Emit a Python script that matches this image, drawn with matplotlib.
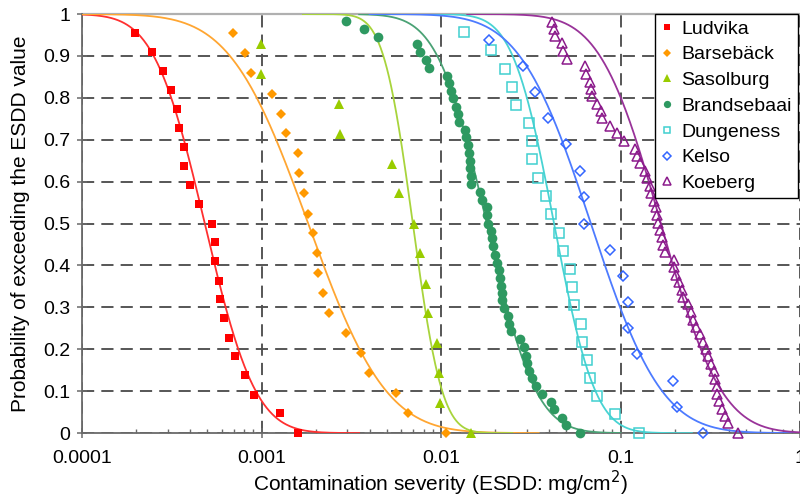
import math
import numpy as np
import matplotlib
matplotlib.use("Agg")
import matplotlib.pyplot as plt

plt.rcParams['font.family'] = ['Liberation Sans', 'DejaVu Sans']

# measured points: ESDD (mg/cm2) and probability of exceeding
ludvika_x = [0.000197, 0.000244, 0.000284, 0.000315, 0.000340, 0.000348, 0.000371, 0.000372,
             0.000399, 0.000450, 0.000533, 0.000550, 0.000551, 0.000583, 0.000590, 0.000618,
             0.000655, 0.000711, 0.000809, 0.000904, 0.00127, 0.00160]
ludvika_p = [0.956, 0.910, 0.865, 0.819, 0.773, 0.729, 0.683, 0.638, 0.593, 0.547, 0.500,
             0.455, 0.410, 0.364, 0.319, 0.274, 0.228, 0.183, 0.138, 0.092, 0.047, 0.0]

barseback_x = [0.000690, 0.000809, 0.000877, 0.00114, 0.00128, 0.00137, 0.00159, 0.00161,
               0.00173, 0.00181, 0.00193, 0.00203, 0.00207, 0.00220, 0.00237, 0.00294,
               0.00360, 0.00399, 0.00562, 0.00659, 0.0107]
barseback_p = [0.954, 0.906, 0.859, 0.810, 0.762, 0.715, 0.668, 0.620, 0.572, 0.524, 0.477,
               0.429, 0.381, 0.335, 0.286, 0.238, 0.190, 0.143, 0.095, 0.048, 0.0]

sasolburg_x = [0.000993, 0.000993, 0.00269, 0.00274, 0.00532, 0.00580, 0.00705, 0.00759,
               0.00826, 0.00848, 0.00953, 0.00977, 0.00982, 0.0147]
sasolburg_p = [0.929, 0.858, 0.785, 0.714, 0.643, 0.572, 0.500, 0.429, 0.357, 0.286, 0.214,
               0.143, 0.072, 0.0]

brandsebaai_x = [0.00294, 0.00374, 0.00445, 0.00733, 0.00759, 0.00823, 0.00855, 0.01083, 0.01115,
                 0.01130, 0.01159, 0.01210, 0.01236, 0.01264, 0.01365, 0.01375, 0.01412, 0.01437,
                 0.01442, 0.01448, 0.01462, 0.01466, 0.0164, 0.0169, 0.0180, 0.0181, 0.0183,
                 0.0190, 0.0193, 0.0195, 0.0199, 0.0205, 0.0211, 0.0213, 0.0217, 0.0219, 0.0220,
                 0.0225, 0.0237, 0.0240, 0.0247, 0.0274, 0.0289, 0.0297, 0.0303, 0.0310, 0.0321,
                 0.0337, 0.0364, 0.0410, 0.0424, 0.0472, 0.0499, 0.0593]
brandsebaai_p = [0.983, 0.964, 0.946, 0.928, 0.909, 0.890, 0.872, 0.853, 0.835, 0.817, 0.799,
                 0.779, 0.761, 0.742, 0.723, 0.706, 0.687, 0.668, 0.650, 0.632, 0.613, 0.594,
                 0.575, 0.556, 0.539, 0.520, 0.500, 0.483, 0.465, 0.446, 0.426, 0.407, 0.389,
                 0.371, 0.352, 0.335, 0.317, 0.298, 0.279, 0.261, 0.243, 0.224, 0.205, 0.185,
                 0.167, 0.149, 0.131, 0.112, 0.094, 0.075, 0.057, 0.037, 0.020, 0.0]

dungeness_x = [0.01346, 0.0189, 0.0227, 0.0248, 0.0263, 0.0309, 0.0323, 0.0323, 0.0347, 0.0386,
               0.0412, 0.0454, 0.0481, 0.0521, 0.0539, 0.0548, 0.0603, 0.0614, 0.0654, 0.0677,
               0.0738, 0.0929, 0.126]
dungeness_p = [0.958, 0.914, 0.870, 0.827, 0.783, 0.739, 0.696, 0.653, 0.609, 0.566, 0.523,
               0.478, 0.435, 0.392, 0.348, 0.305, 0.261, 0.218, 0.174, 0.131, 0.088, 0.045, 0.0]

kelso_x = [0.0184, 0.0286, 0.0336, 0.0394, 0.0499, 0.0593, 0.0624, 0.0626, 0.0871, 0.1033,
           0.1097, 0.1107, 0.1232, 0.196, 0.206, 0.287]
kelso_p = [0.938, 0.876, 0.814, 0.751, 0.689, 0.625, 0.563, 0.500, 0.437, 0.375, 0.313,
           0.251, 0.188, 0.125, 0.063, 0.0]

koeberg_x = [0.0415, 0.0424, 0.0430, 0.0475, 0.0478, 0.0506, 0.0632, 0.0640, 0.0674, 0.0689,
             0.0694, 0.0743, 0.0783, 0.0789, 0.0871, 0.0957, 0.1047, 0.1197, 0.1228, 0.1292,
             0.1377, 0.1406, 0.1452, 0.1476, 0.1535, 0.1575, 0.1589, 0.162, 0.167, 0.170,
             0.173, 0.177, 0.199, 0.199, 0.203, 0.212, 0.219, 0.223, 0.238, 0.246, 0.254,
             0.265, 0.277, 0.289, 0.298, 0.306, 0.318, 0.331, 0.337, 0.343, 0.347, 0.353,
             0.366, 0.382, 0.398, 0.449]
koeberg_p = [0.982, 0.964, 0.947, 0.930, 0.911, 0.893, 0.876, 0.858, 0.839, 0.822, 0.804,
             0.786, 0.769, 0.752, 0.733, 0.715, 0.696, 0.679, 0.661, 0.644, 0.626, 0.608,
             0.590, 0.572, 0.555, 0.539, 0.520, 0.502, 0.484, 0.467, 0.449, 0.431, 0.413,
             0.396, 0.378, 0.360, 0.342, 0.325, 0.307, 0.289, 0.271, 0.254, 0.236, 0.218,
             0.200, 0.183, 0.165, 0.147, 0.129, 0.112, 0.094, 0.076, 0.058, 0.040, 0.023, 0.0]

sites = ["Ludvika", "Barsebäck", "Sasolburg", "Brandsebaai", "Dungeness", "Kelso", "Koeberg"]
xs = [ludvika_x, barseback_x, sasolburg_x, brandsebaai_x, dungeness_x, kelso_x, koeberg_x]
ps = [ludvika_p, barseback_p, sasolburg_p, brandsebaai_p, dungeness_p, kelso_p, koeberg_p]

# log-normal fits (log10 median and log10 std. dev.) and range each fit is drawn over
fit_log_median = [-3.316, -2.74, -2.157, -1.745, -1.37, -1.165, -0.775]
fit_log_sigma = [0.222, 0.34, 0.128, 0.215, 0.18, 0.31, 0.265]
fit_x_start = [1e-4, 1e-4, 0.0017, 0.0035, 0.007, 0.004, 0.014]
fit_x_end = [0.0035, 0.035, 0.025, 0.1, 0.25, 1.0, 1.0]

marker_col = ["#ff0000", "#ff9900", "#99cc00", "#2e9961", "#40d0d0", "#3366ff", "#8b1a8b"]
line_col = ["#ff3030", "#ffa632", "#a8d43c", "#4aa275", "#48d3d3", "#4d7bff", "#993399"]
markers = ["s", "D", "^", "o", "s", "D", "^"]
msizes = [6, 5.5, 7, 7, 6.5, 5, 7]
filled = [True, True, True, True, False, False, False]

fig = plt.figure(figsize=(8.0, 5.03), dpi=100)
ax = fig.add_axes([0.1025, 0.139, 0.8975, 0.833])

for i in range(len(sites)):
    xx = np.logspace(np.log10(fit_x_start[i]), np.log10(fit_x_end[i]), 400)
    z = (np.log10(xx) - fit_log_median[i]) / (fit_log_sigma[i] * math.sqrt(2))
    surv = np.array([0.5 * math.erfc(v) for v in z])
    ax.plot(xx, surv, color=line_col[i], lw=1.3, zorder=3)

for i in range(len(sites)):
    if filled[i]:
        ax.plot(xs[i], ps[i], linestyle="none", marker=markers[i], ms=msizes[i],
                color=marker_col[i], markeredgewidth=0, label=sites[i], zorder=4, clip_on=False)
    else:
        ax.plot(xs[i], ps[i], linestyle="none", marker=markers[i], ms=msizes[i],
                markerfacecolor="none", markeredgecolor=marker_col[i], markeredgewidth=1.1,
                label=sites[i], zorder=4, clip_on=False)

ax.set_xscale("log")
ax.set_xlim(1e-4, 1)
ax.set_ylim(0, 1)
ax.set_xticks([1e-4, 1e-3, 1e-2, 1e-1, 1])
ax.set_xticklabels(["0.0001", "0.001", "0.01", "0.1", "1"])
ax.set_yticks(np.arange(0, 1.01, 0.1))
ax.set_yticklabels(["0", "0.1", "0.2", "0.3", "0.4", "0.5", "0.6", "0.7", "0.8", "0.9", "1"])

ax.grid(True, which="major", color="#505050", linestyle=(0, (6.5, 3.8)), linewidth=1.35, zorder=1)
ax.set_axisbelow(True)

for side in ["left", "bottom"]:
    ax.spines[side].set_color("#6a6a6a")
    ax.spines[side].set_linewidth(1.3)
ax.spines["top"].set_color("#b0b0b0")
ax.spines["top"].set_linewidth(1.6)
ax.spines["top"].set_zorder(2)
ax.spines["right"].set_visible(False)

ax.tick_params(axis="both", which="major", direction="inout", length=7, width=1.1,
               color="#6a6a6a", labelsize=14, pad=5)
ax.tick_params(axis="x", which="major", pad=9)
ax.tick_params(axis="x", which="minor", direction="in", length=3, width=1.0, color="#6a6a6a")

ax.set_xlabel("Contamination severity (ESDD: mg/cm$^2$)", fontsize=15, labelpad=1)
ax.set_ylabel("Probability of exceeding the ESDD value", fontsize=15, labelpad=9)

leg = ax.legend(loc="upper right", bbox_to_anchor=(0.997, 1.0), fontsize=14, frameon=True,
                fancybox=False, edgecolor="black", framealpha=1, markerscale=0.75,
                handlelength=0.6, handletextpad=0.45, labelspacing=0.42, borderpad=0.3,
                borderaxespad=0)
leg.get_frame().set_linewidth(1.0)
leg.set_zorder(5)

fig.savefig("out.png", dpi=100)
